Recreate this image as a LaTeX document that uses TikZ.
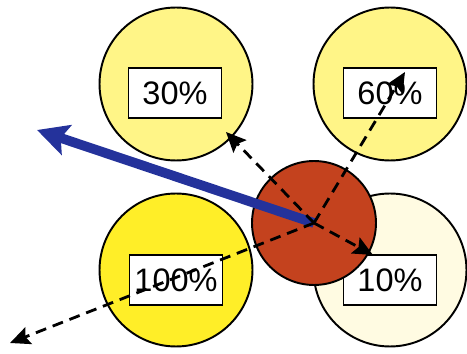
\documentclass[tikz,border=0pt]{standalone}
\usepackage{fontspec}
\setmainfont{Liberation Sans}
\usetikzlibrary{arrows.meta}
\definecolor{myyellow}{RGB}{255,238,40}
\definecolor{mylightyellow}{RGB}{255,245,135}
\definecolor{mypaleyellow}{RGB}{255,251,226}
\definecolor{myred}{RGB}{196,66,30}
\definecolor{myblue}{RGB}{36,50,155}

\tikzset{
  zone/.style={draw, circle, line width=1.1pt, minimum size=3.06cm, inner sep=0pt},
  pctbox/.style={draw, rectangle, fill=white, line width=1.1pt, minimum width=1.86cm, minimum height=1cm, inner sep=0pt, font=\fontsize{18.5}{20}\selectfont},
  pull/.style={line width=1.6pt, dash pattern=on 2.2mm off 1.4mm, -{Stealth[length=4mm,width=3.6mm,inset=0.7mm]}},
}

\begin{document}
\begin{tikzpicture}[x=0.02cm, y=-0.02cm]
  \useasboundingbox (0,0) rectangle (467,354);

  % zones
  \node[zone, fill=mylightyellow] (z30) at (176,84) {};
  \node[zone, fill=mylightyellow] (z60) at (390,84) {};
  \node[zone, fill=myyellow] (z100) at (176,270) {};
  \node[zone, fill=mypaleyellow] (z10) at (390,270) {};

  % labels
  \node[pctbox] (b30) at (175,93) {30\%};
  \node[pctbox] (b60) at (390,93) {60\%};
  \node[pctbox] (b100) at (176,280) {100\%};
  \node[pctbox] (b10) at (390,280) {10\%};

  % ball
  \node[draw, circle, fill=myred, line width=1.1pt, minimum size=2.48cm, inner sep=0pt] (ball) at (314,223) {};

  % force
  \coordinate (ftip) at (37,130);
  \draw[myblue, line width=5.5pt, -{Stealth[length=6.2mm,width=6.2mm,inset=1.2mm]}] (ball.center) -- (ftip);

  % paths
  \coordinate (p30) at (226,132);
  \coordinate (p60) at (405,72);
  \coordinate (p10) at (373,255);
  \coordinate (p100) at (10,343);
  \draw[pull] (ball.center) -- (p30);
  \draw[pull] (ball.center) -- (p60);
  \draw[pull] (ball.center) -- (p10);
  \draw[pull] (ball.center) -- (p100);
\end{tikzpicture}
\end{document}
